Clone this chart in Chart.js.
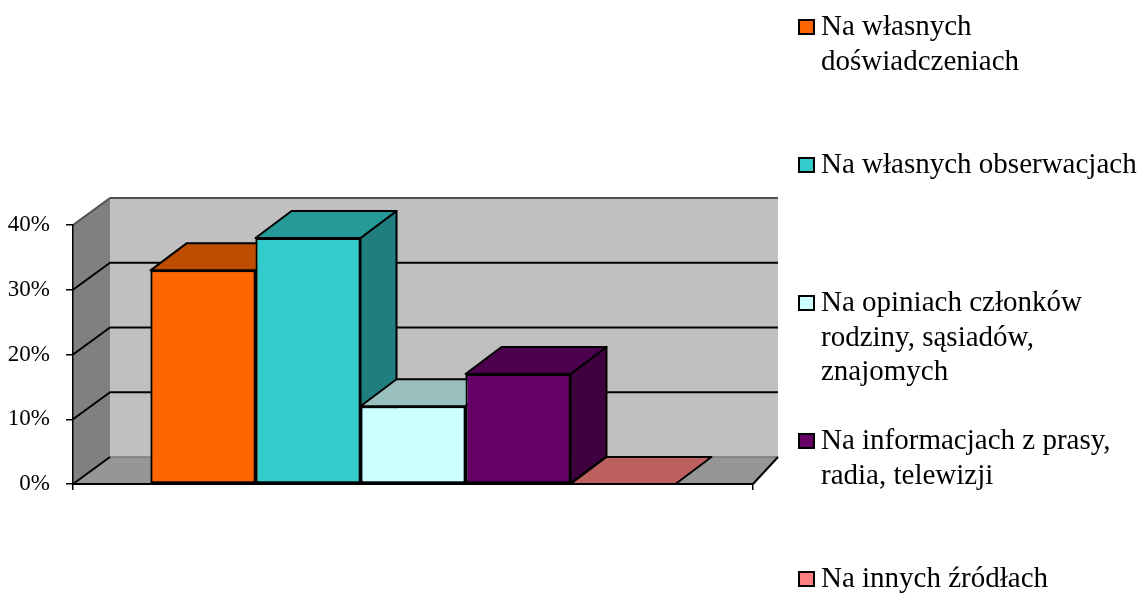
<!DOCTYPE html>
<html>
<head>
<meta charset="utf-8">
<script src="https://cdn.jsdelivr.net/npm/chart.js@4.4.1/dist/chart.umd.min.js"></script>
<style>
  html, body { margin: 0; padding: 0; background: #fff; }
  canvas { display: block; }
</style>
</head>
<body>
<canvas id="sources" width="1143" height="594"></canvas>
<script>
// Na czym respondenci opierają swoją wiedzę (udział odpowiedzi, %)
const sourceNames = [
  ['Na własnych', 'doświadczeniach'],
  ['Na własnych obserwacjach'],
  ['Na opiniach członków', 'rodziny, sąsiadów,', 'znajomych'],
  ['Na informacjach z prasy,', 'radia, telewizji'],
  ['Na innych źródłach']
];
const shares = [33, 38, 12, 17, 0];
const yTicks = [0, 10, 20, 30, 40];

const colors = ['#FF6600', '#33CCCC', '#CCFFFF', '#660066', '#FF8080'];
const FONT = '"Liberation Serif", "Times New Roman", serif';
const DX = 36, DY = 27;      // depth offset of the boxes
const WALL_DX = 37;          // depth of the side wall
const FLOOR_DX = 25;         // right end of the floor

function shade(hex, f) {
  const n = parseInt(hex.slice(1), 16);
  const r = Math.round(((n >> 16) & 255) * f);
  const g = Math.round(((n >> 8) & 255) * f);
  const b = Math.round((n & 255) * f);
  return `rgb(${r},${g},${b})`;
}

function poly(ctx, pts, fill, stroke, lw) {
  ctx.beginPath();
  ctx.moveTo(pts[0][0], pts[0][1]);
  for (let i = 1; i < pts.length; i++) ctx.lineTo(pts[i][0], pts[i][1]);
  ctx.closePath();
  if (fill) { ctx.fillStyle = fill; ctx.fill(); }
  if (stroke) { ctx.strokeStyle = stroke; ctx.lineWidth = lw || 1; ctx.stroke(); }
}

function line(ctx, pts, color, lw) {
  ctx.beginPath();
  ctx.moveTo(pts[0][0], pts[0][1]);
  for (let i = 1; i < pts.length; i++) ctx.lineTo(pts[i][0], pts[i][1]);
  ctx.strokeStyle = color;
  ctx.lineWidth = lw;
  ctx.stroke();
}

// back wall, side wall, floor and gridlines behind the bars
const walls = {
  id: 'walls',
  beforeDraw(chart) {
    const ctx = chart.ctx;
    const a = chart.chartArea;
    const ys = chart.scales.y;
    const bl = a.left + WALL_DX, br = a.right + FLOOR_DX;
    ctx.save();
    ctx.lineJoin = 'round';
    poly(ctx, [[bl, a.top - DY], [br, a.top - DY], [br, a.bottom - DY], [bl, a.bottom - DY]], '#C0C0C0');
    poly(ctx, [[a.left, a.top], [bl, a.top - DY], [bl, a.bottom - DY], [a.left, a.bottom]], '#808080');
    poly(ctx, [[a.left, a.bottom], [a.right, a.bottom], [br, a.bottom - DY], [bl, a.bottom - DY]], '#969696');
    yTicks.forEach(v => {
      const py = ys.getPixelForValue(v);
      if (v === ys.max) {
        line(ctx, [[a.left, py], [bl, py - DY], [br, py - DY]], '#505050', 2);
      } else if (v === ys.min) {
        line(ctx, [[bl, py - DY], [br, py - DY]], '#7a7a7a', 1.5);
        line(ctx, [[a.left, py], [bl, py - DY]], '#000', 2);
      } else {
        line(ctx, [[a.left, py], [bl, py - DY], [br, py - DY]], '#000', 2);
      }
    });
    line(ctx, [[a.right, a.bottom], [br, a.bottom - DY]], '#000', 2);
    ctx.restore();
  }
};

// top and side faces, then the front face again, left to right
const boxes = {
  id: 'boxes',
  afterDatasetsDraw(chart) {
    const ctx = chart.ctx;
    ctx.save();
    ctx.lineJoin = 'round';
    chart.data.datasets.forEach((ds, i) => {
      const meta = chart.getDatasetMeta(i);
      meta.data.forEach(bar => {
        const p = bar.getProps(['x', 'y', 'base', 'width'], true);
        const l = p.x - p.width / 2, r = p.x + p.width / 2;
        const c = ds.backgroundColor;
        if (p.base - p.y > 0.5) {
          poly(ctx, [[r, p.y], [r + DX, p.y - DY], [r + DX, p.base - DY], [r, p.base]], shade(c, 0.62), '#000', 2);
        }
        poly(ctx, [[l, p.y], [r, p.y], [r + DX, p.y - DY], [l + DX, p.y - DY]], shade(c, 0.75), '#000', 2);
        if (p.base - p.y > 0.5) bar.draw(ctx);
      });
    });
    ctx.restore();
  }
};

// legend on the right, one item per series
const sideLegend = {
  id: 'sideLegend',
  afterDraw(chart) {
    const ctx = chart.ctx;
    ctx.save();
    ctx.font = '29px ' + FONT;
    ctx.textBaseline = 'alphabetic';
    sourceNames.forEach((lines, i) => {
      const base = 35 + i * 138;
      ctx.fillStyle = colors[i];
      ctx.fillRect(799, base - 15, 15, 14);
      ctx.strokeStyle = '#000';
      ctx.lineWidth = 2;
      ctx.strokeRect(799, base - 15, 15, 14);
      ctx.fillStyle = '#000';
      lines.forEach((t, k) => ctx.fillText(t, 821, base + k * 34.5));
    });
    ctx.restore();
  }
};

new Chart(document.getElementById('sources').getContext('2d'), {
  type: 'bar',
  data: {
    labels: [''],
    datasets: sourceNames.map((n, i) => ({
      label: n.join(' '),
      data: [shares[i]],
      backgroundColor: colors[i],
      borderColor: '#000',
      borderWidth: 2,
      borderSkipped: false,
      categoryPercentage: 0.772,
      barPercentage: 1.0
    }))
  },
  options: {
    responsive: false,
    animation: false,
    layout: { padding: { left: 0, top: 225, right: 390, bottom: 0 } },
    plugins: { legend: { display: false }, tooltip: { enabled: false } },
    scales: {
      x: {
        offset: true,
        ticks: { display: false },
        grid: { drawOnChartArea: false, offset: true, color: '#000', lineWidth: 1.5, tickLength: 6 },
        border: { color: '#000', width: 2 },
        afterFit: s => { s.height = 110; }
      },
      y: {
        min: 0,
        max: 40,
        afterBuildTicks: s => { s.ticks = yTicks.map(v => ({ value: v })); },
        ticks: { callback: v => v + '%', color: '#000', padding: 16, font: { family: FONT, size: 23 } },
        grid: { drawOnChartArea: false, color: '#000', lineWidth: 1.5, tickLength: 7 },
        border: { color: '#000', width: 1.5 },
        afterFit: s => { s.width = 73; }
      }
    }
  },
  plugins: [walls, boxes, sideLegend]
});
</script>
</body>
</html>
